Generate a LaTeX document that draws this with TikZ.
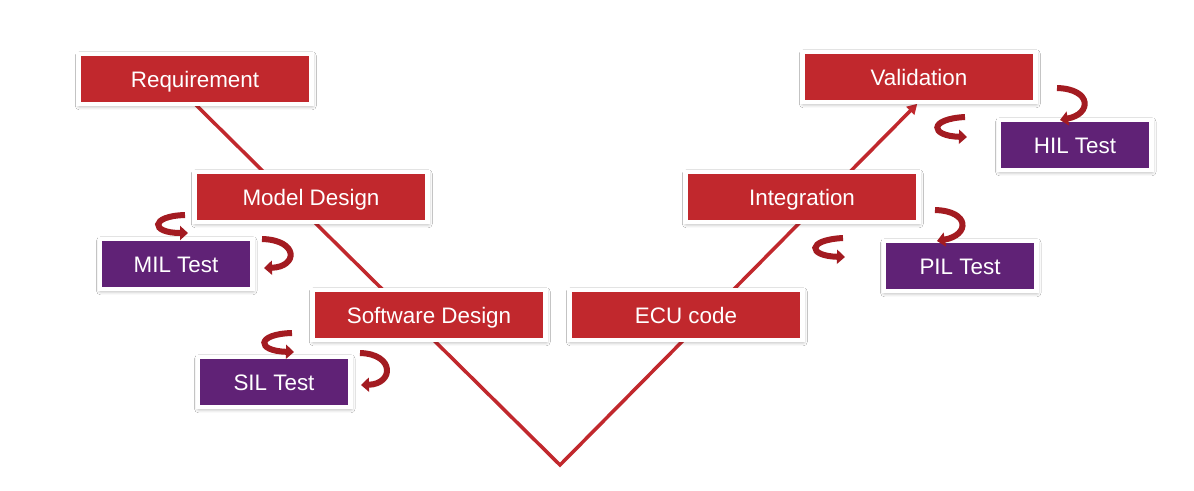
\documentclass[tikz,border=0pt]{standalone}
\usepackage{fontspec}
\setmainfont{Liberation Sans}
\usetikzlibrary{arrows.meta,shadows.blur,backgrounds}
\definecolor{vred}{RGB}{193,40,45}
\definecolor{vpurple}{RGB}{96,34,118}
\definecolor{loopred}{RGB}{163,27,33}
\tikzset{
  stage/.style={rectangle, fill=vred, draw=white, line width=4.5pt, minimum width=233pt, minimum height=50pt,
    text=white, font=\fontsize{22.4}{26}\selectfont, text height=16pt, text depth=0pt, outer sep=0pt,
    blur shadow={shadow xshift=0.8pt, shadow yshift=-1.8pt, shadow blur radius=4pt, shadow opacity=40}},
  test/.style={stage, fill=vpurple, minimum width=152.5pt},
  vline/.style={draw=vred, line width=3.5pt},
  cyc/.style={draw=loopred, line width=6pt, -{Triangle[length=8pt,width=14pt]}}
}
\begin{document}
\begin{tikzpicture}[x=1pt, y=-1pt]
    \useasboundingbox (0,0) rectangle (1194,490);
    \node[stage] (req) at (195,79) {Requirement};
    \node[stage] (model) at (311,197) {Model Design};
    \node[test] (mil) at (176,264) {MIL Test};
    \node[stage] (sw) at (429,315) {Software Design};
    \node[test] (sil) at (274,382) {SIL Test};
    \node[stage] (ecu) at (686,315) {ECU code};
    \node[stage] (integ) at (802,197) {Integration};
    \node[test] (pil) at (960,266) {PIL Test};
    \node[stage] (val) at (919,77) {Validation};
    \node[test] (hil) at (1075,145) {HIL Test};
    \coordinate (vbot) at (560,465);
    \begin{scope}[on background layer]
        \fill[white] (0,0) rectangle (1194,490);
        \draw[vline, -{Triangle[length=10pt,width=11pt]}, shorten >=2.5pt] (req.south) -- (vbot) -- (val.south);
    \end{scope}
    \draw[cyc] (185,215) .. controls (150,216) and (150,233) .. (188,233);
    \draw[cyc] (262,239) .. controls (299,240) and (298,267) .. (264,268);
    \draw[cyc] (292,333) .. controls (256,334) and (256,351) .. (294,352);
    \draw[cyc] (360,353) .. controls (395,354) and (394,384) .. (361,385);
    \draw[cyc] (935,210) .. controls (970,211) and (970,235) .. (937,241);
    \draw[cyc] (843,238) .. controls (806,240) and (808,256) .. (845,257);
    \draw[cyc] (1057,88) .. controls (1092,89) and (1092,114) .. (1060,120);
    \draw[cyc] (965,117) .. controls (928,119) and (930,136) .. (967,137);
\end{tikzpicture}
\end{document}
